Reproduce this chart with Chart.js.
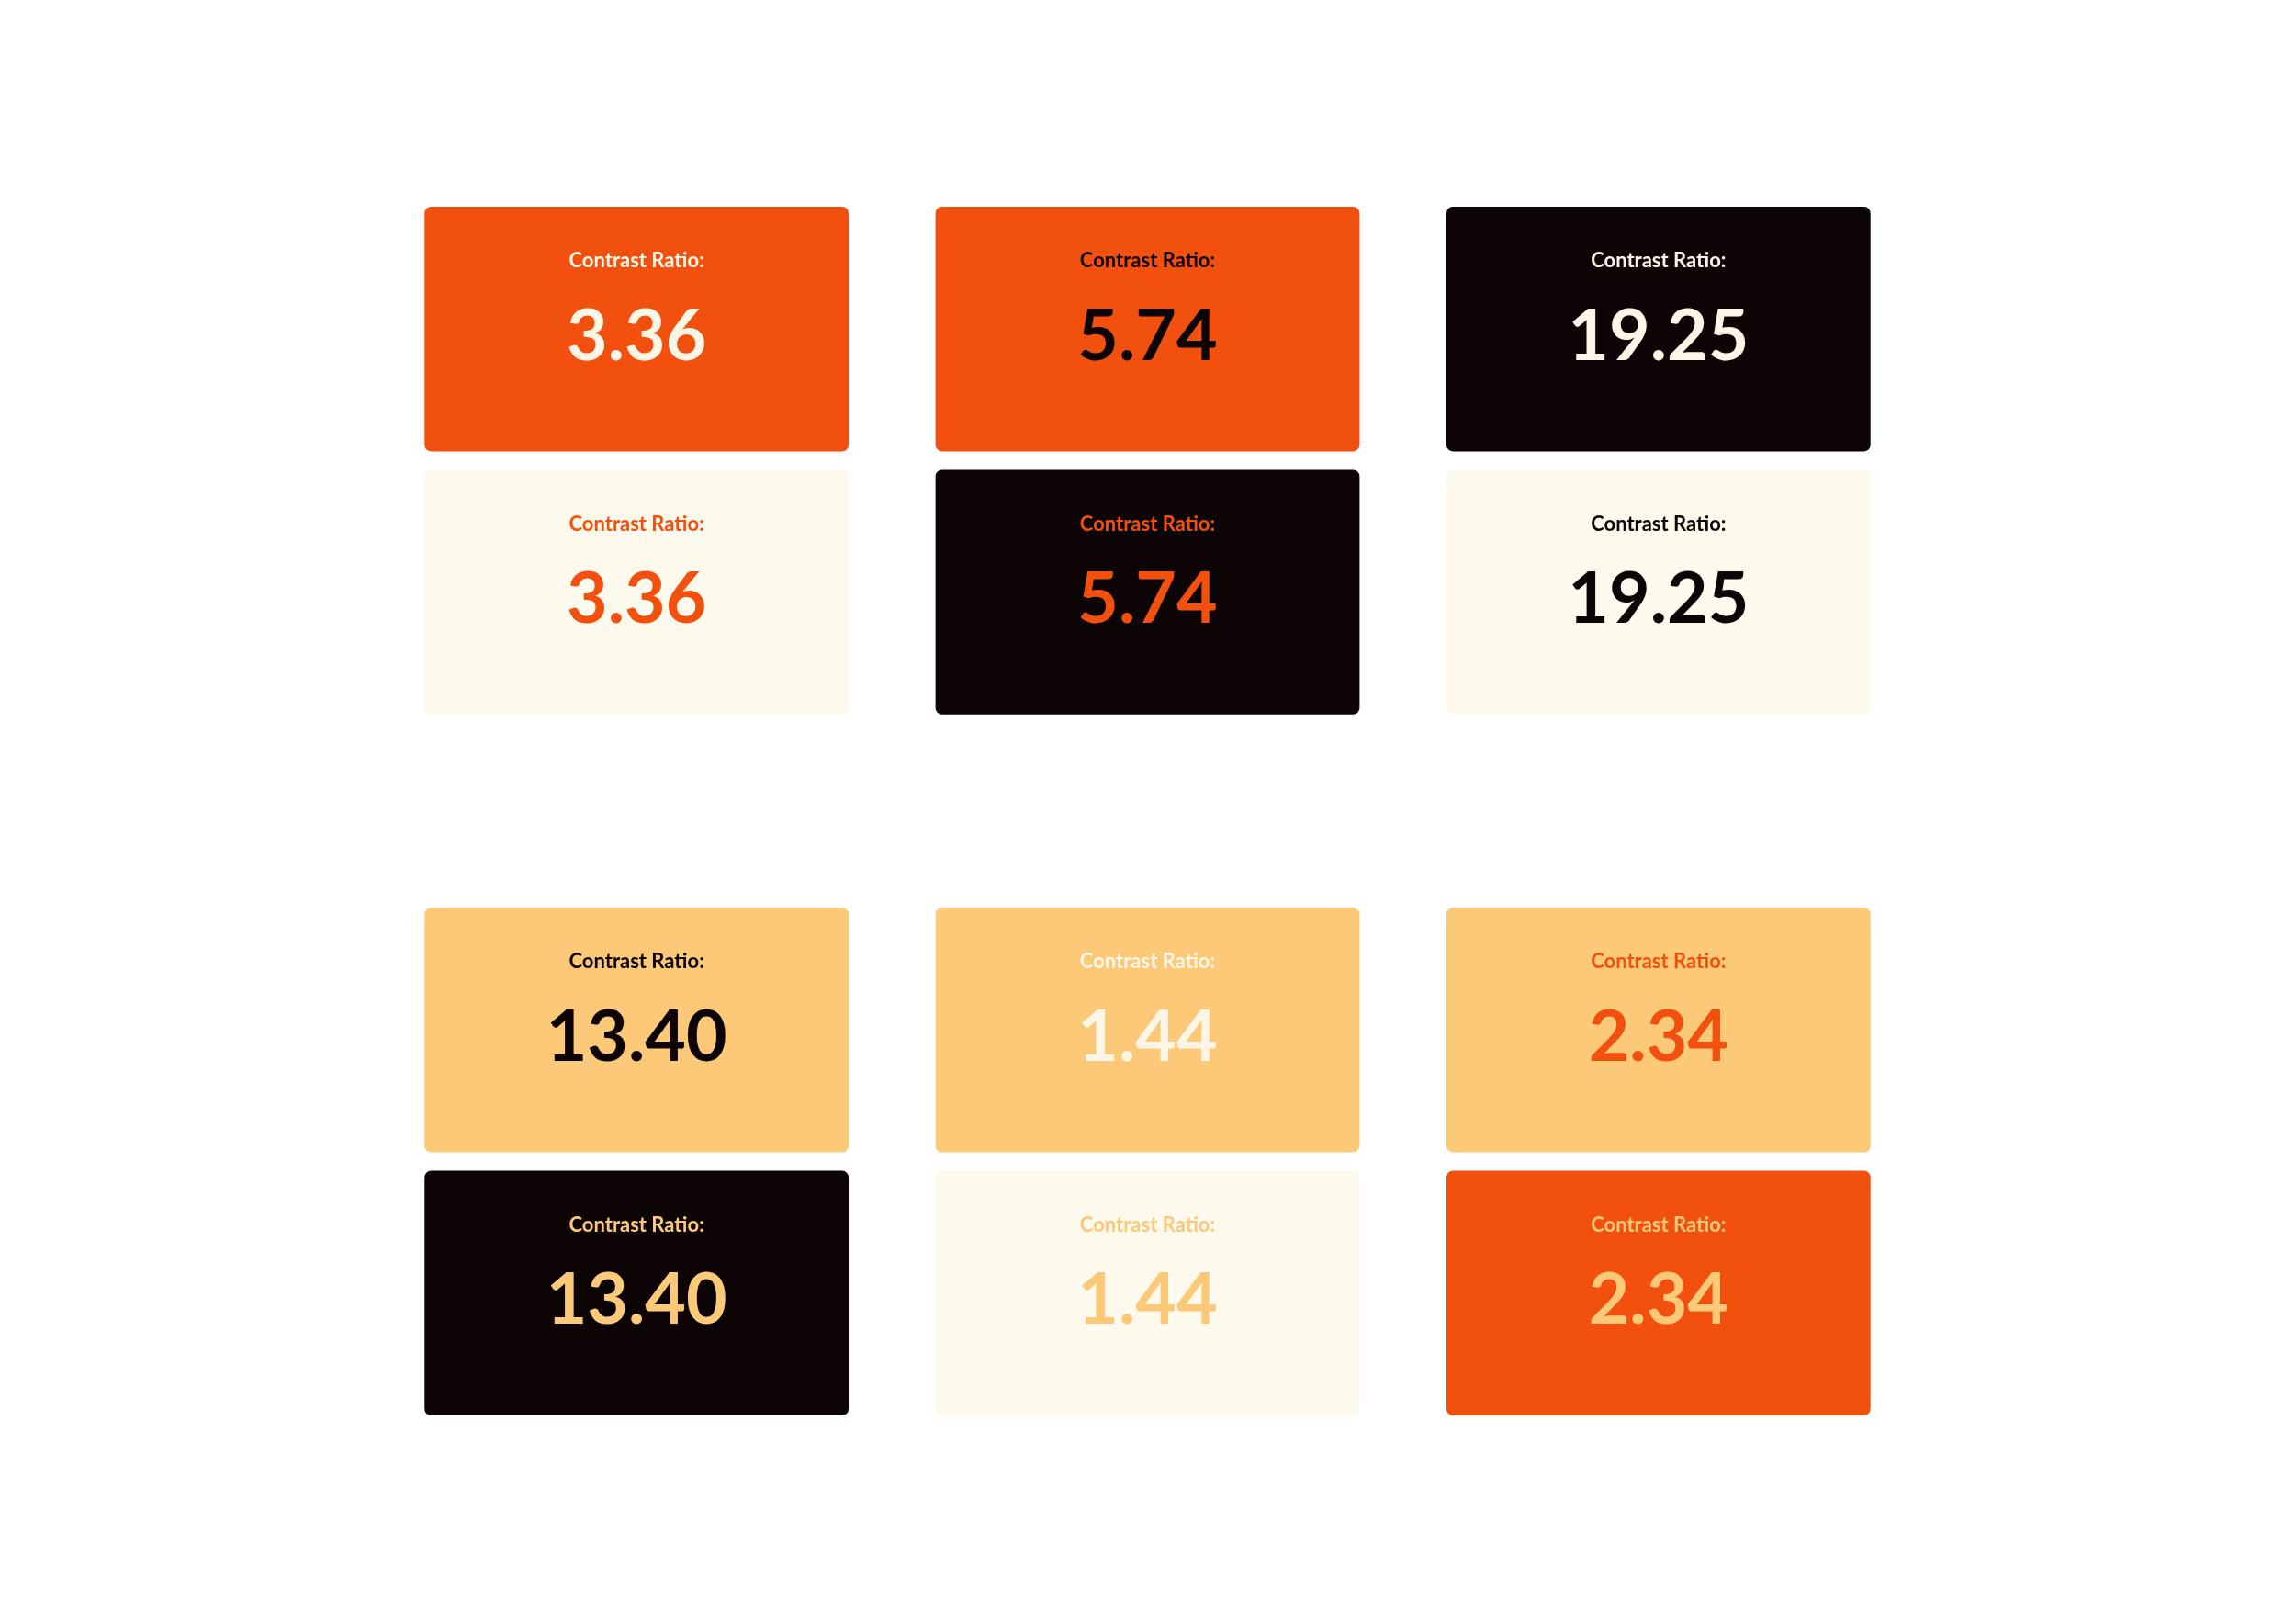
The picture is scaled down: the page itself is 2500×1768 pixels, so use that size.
<!DOCTYPE html>
<html>
<head>
<meta charset="utf-8">
<title>Contrast Ratio</title>
<script src="https://cdn.jsdelivr.net/npm/chart.js@4.4.1/dist/chart.umd.min.js"></script>
<style>
  html, body { margin: 0; padding: 0; background: #ffffff; }
  canvas { display: block; }
</style>
</head>
<body>
<canvas id="cards" width="2500" height="1768"></canvas>
<script>
// columns of the grid, rows of cards (top pair, bottom pair)
const columns = ["col1", "col2", "col3"];
const rowRatios = [
    [3.36, 5.74, 19.25],
    [3.36, 5.74, 19.25],
    [13.40, 1.44, 2.34],
    [13.40, 1.44, 2.34],
];
const labelText = "Contrast Ratio:";

// palette
const orange = "#f2500f",
    cream = "#fdf9ec",
    ink = "#0d0505",
    peach = "#fcc978",
    paper = "#fdf6e6";

const rowBackgrounds = [
    [orange, orange, ink],
    [cream, ink, cream],
    [peach, peach, peach],
    [ink, cream, orange],
];
const rowTextColors = [
    [paper, ink, paper],
    [orange, orange, ink],
    [ink, paper, orange],
    [peach, peach, peach],
];

const pairGap = 0.075,
    blockGap = 0.79;

function rowStart(r) {
    const pair = Math.floor(r / 2);
    return pair * (2 + pairGap + blockGap) + (r % 2) * (1 + pairGap);
}

const datasets = rowRatios.map((ratios, r) => {
    return {
        label: "row " + (r + 1),
        data: ratios.map(() => [rowStart(r), rowStart(r) + 1]),
        ratios: ratios,
        textColors: rowTextColors[r],
        backgroundColor: rowBackgrounds[r],
        borderRadius: 7,
        borderSkipped: false,
        barPercentage: 0.83,
        categoryPercentage: 1,
    };
});

const cardText = {
    id: "cardText",
    afterDatasetsDraw(chart) {
        const ctx = chart.ctx;
        ctx.save();
        ctx.textAlign = "center";
        ctx.textBaseline = "middle";
        chart.data.datasets.forEach((ds, i) => {
            const meta = chart.getDatasetMeta(i);
            meta.data.forEach((bar, j) => {
                const top = Math.min(bar.y, bar.base);
                const h = Math.abs(bar.base - bar.y);
                ctx.fillStyle = ds.textColors[j];
                ctx.font = "700 22px Lato";
                ctx.fillText(labelText, bar.x, top + h * 0.222);
                ctx.font = "700 77px Lato";
                ctx.fillText(ds.ratios[j].toFixed(2), bar.x, top + h * 0.532);
            });
        });
        ctx.restore();
    },
};

const chart = new Chart(document.getElementById("cards").getContext("2d"), {
    type: "bar",
    data: { labels: columns, datasets: datasets },
    options: {
        responsive: false,
        devicePixelRatio: 1,
        animation: false,
        layout: { padding: { left: 415, right: 416, top: 225, bottom: 227 } },
        plugins: { legend: { display: false }, tooltip: { enabled: false } },
        scales: {
            x: { display: false, stacked: true },
            y: { display: false, reverse: true, min: 0, max: rowStart(3) + 1 },
        },
    },
    plugins: [cardText],
});
</script>
</body>
</html>
